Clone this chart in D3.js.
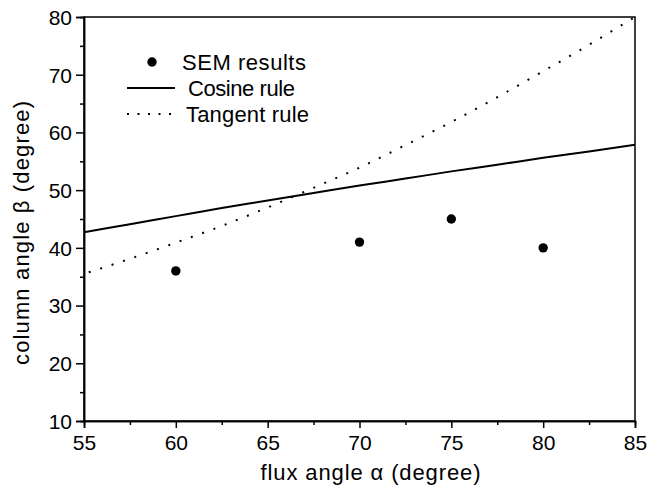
<!DOCTYPE html>
<html>
<head>
<meta charset="utf-8">
<script src="https://cdn.jsdelivr.net/npm/d3@7"></script>
<style>
  html, body { margin: 0; padding: 0; background: #fff; }
  svg { display: block; }
  text { font-family: "Liberation Sans", Arial, sans-serif; fill: #000; }
</style>
</head>
<body>
<div id="chart"></div>
<script>
// ---- data ----
const semAlpha = [60, 70, 75, 80];
const semBeta  = [36, 41, 45, 40];

const curveAlpha   = [55, 57.5, 60, 62.5, 65, 67.5, 70, 72.5, 75, 77.5, 80, 82.5, 85];
const cosineBeta   = [42.7, 44.1, 45.5, 46.9, 48.2, 49.5, 50.8, 52.0, 53.25, 54.4, 55.6, 56.7, 57.85];
const tangentBeta  = [35.5, 38.1, 40.9, 43.8, 47.0, 50.4, 53.9, 57.8, 61.8, 66.1, 70.6, 75.2, 80.0];

const xTicks = [55, 60, 65, 70, 75, 80, 85];
const yTicks = [10, 20, 30, 40, 50, 60, 70, 80];
const xMinor = [57.5, 62.5, 67.5, 72.5, 77.5, 82.5];
const yMinor = [15, 25, 35, 45, 55, 65, 75];

const legendLabels = ["SEM results", "Cosine rule", "Tangent rule"];
const xTitle = "flux angle \u03b1 (degree)";
const yTitle = "column angle \u03b2 (degree)";

// ---- layout ----
const W = 648, H = 487;
const L = 84, R = 635, T = 17, B = 421;
const FS = "21px";
const FT = "22px";

const svg = d3.select("#chart").append("svg").attr("width", W).attr("height", H);

const x = d3.scaleLinear().domain([55, 85]).range([L, R]);
const y = d3.scaleLinear().domain([10, 80]).range([B, T]);

// frame
svg.append("rect").attr("x", L).attr("y", T).attr("width", R - L).attr("height", B - T)
  .attr("fill", "none").attr("stroke", "#000").attr("stroke-width", 1.5);

// axes
const xAxis = svg.append("g").attr("transform", `translate(0,${B})`)
  .call(d3.axisBottom(x).tickValues(xTicks).tickSize(7).tickPadding(7).tickFormat(d3.format("d")));
const xAxisMinor = svg.append("g").attr("transform", `translate(0,${B})`)
  .call(d3.axisBottom(x).tickValues(xMinor).tickSize(4).tickFormat(""));
const yAxis = svg.append("g").attr("transform", `translate(${L},0)`)
  .call(d3.axisLeft(y).tickValues(yTicks).tickSize(8).tickPadding(4).tickFormat(d3.format("d")));
const yAxisMinor = svg.append("g").attr("transform", `translate(${L},0)`)
  .call(d3.axisLeft(y).tickValues(yMinor).tickSize(4).tickFormat(""));

[xAxis, xAxisMinor, yAxis, yAxisMinor].forEach(g => {
  g.select(".domain").attr("stroke", "#000").attr("stroke-width", 1.5);
  g.selectAll(".tick line").attr("stroke", "#000").attr("stroke-width", 1.5);
  g.selectAll(".tick text").style("font-size", FS)
    .style("font-family", "'Liberation Sans', Arial, sans-serif").attr("fill", "#000");
});
yAxis.selectAll(".tick text").attr("dy", "0.35em");

// titles
svg.append("text").attr("x", (L + R) / 2 + 11).attr("y", 480)
  .attr("text-anchor", "middle").style("font-size", FT)
  .attr("textLength", 220).attr("lengthAdjust", "spacing").text(xTitle);
svg.append("text").attr("transform", `translate(29,233) rotate(-90)`)
  .attr("text-anchor", "middle").style("font-size", FT)
  .attr("textLength", 264).attr("lengthAdjust", "spacing").text(yTitle);

// curves
const line = d3.line().x(d => x(d[0])).y(d => y(d[1])).curve(d3.curveMonotoneX);
const plot = svg.append("g");
plot.append("path").datum(curveAlpha.map((a, i) => [a, cosineBeta[i]]))
  .attr("d", line).attr("fill", "none").attr("stroke", "#000").attr("stroke-width", 2);
plot.append("path").datum(curveAlpha.map((a, i) => [a, tangentBeta[i]]))
  .attr("d", line).attr("fill", "none").attr("stroke", "#000").attr("stroke-width", 2)
  .attr("stroke-dasharray", "2,10").attr("stroke-dashoffset", -5);

// SEM points
plot.selectAll("circle.sem").data(semAlpha.map((a, i) => [a, semBeta[i]]))
  .enter().append("circle").attr("class", "sem")
  .attr("cx", d => x(d[0])).attr("cy", d => y(d[1])).attr("r", 4.7).attr("fill", "#000");

// legend
const lg = svg.append("g");
lg.append("circle").attr("cx", 152).attr("cy", 62).attr("r", 4.7).attr("fill", "#000");
lg.append("text").attr("x", 182).attr("y", 70).style("font-size", FT)
  .attr("textLength", 124).attr("lengthAdjust", "spacing").text(legendLabels[0]);
lg.append("line").attr("x1", 127).attr("x2", 175).attr("y1", 88).attr("y2", 88)
  .attr("stroke", "#000").attr("stroke-width", 2);
lg.append("text").attr("x", 188).attr("y", 96).style("font-size", FT)
  .attr("textLength", 107).attr("lengthAdjust", "spacing").text(legendLabels[1]);
lg.append("line").attr("x1", 127).attr("x2", 177).attr("y1", 114).attr("y2", 114)
  .attr("stroke", "#000").attr("stroke-width", 2).attr("stroke-dasharray", "2,8.5");
lg.append("text").attr("x", 186).attr("y", 122).style("font-size", FT)
  .attr("textLength", 123).attr("lengthAdjust", "spacing").text(legendLabels[2]);
</script>
</body>
</html>
